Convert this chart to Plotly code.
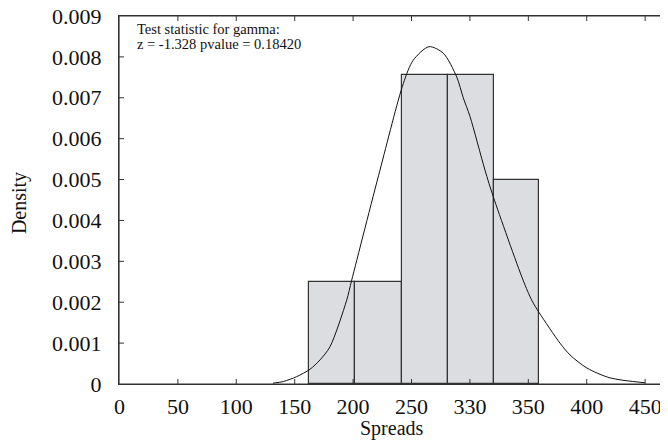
import plotly.graph_objects as go

# Histogram bins (Spreads) and densities
bin_edges = [162, 202, 242, 281, 321, 359]
densities = [0.0025, 0.0025, 0.00755, 0.00755, 0.0050]

# Fitted curve
curve_x = [131.4, 140.2, 151.7, 163.1, 171.7, 180.2, 194.5, 198.8, 223.0, 243.0, 251.5,
           265.0, 277.2, 288.7, 294.3, 300.1, 312.9, 320.0, 345.5, 352.9, 359.4,
           377.1, 385.7, 400.2, 419.9, 449.9]
curve_y = [0.00002, 0.00006, 0.00018, 0.00036, 0.00059, 0.00091, 0.00205, 0.00254, 0.00523,
           0.00735, 0.00792, 0.00825, 0.00809, 0.00751, 0.00700, 0.00654, 0.00523, 0.00458,
           0.00254, 0.00205, 0.00174, 0.00100, 0.00071, 0.00039, 0.00015, 0.00003]

x_tickvals = [0, 50, 100, 150, 200, 250, 300, 350, 400, 450]
x_ticktext = ["0", "50", "100", "150", "200", "250", "330", "350", "400", "450"]
y_tickvals = [0, 0.001, 0.002, 0.003, 0.004, 0.005, 0.006, 0.007, 0.008, 0.009]
y_ticktext = ["0", "0.001", "0.002", "0.003", "0.004", "0.005", "0.006", "0.007", "0.008", "0.009"]

x_title = "Spreads"
y_title = "Density"
ann_lines = ["Test statistic for gamma:", "z = -1.328 pvalue = 0.18420"]

centers = [(a + b) / 2 for a, b in zip(bin_edges[:-1], bin_edges[1:])]
widths = [b - a for a, b in zip(bin_edges[:-1], bin_edges[1:])]

FONT = "Liberation Serif, Times New Roman, serif"
TXT = "#111111"
LINE = "#333333"
X_RANGE = [-0.4, 467]
Y_RANGE = [0, 0.009]

fig = go.Figure()
fig.add_trace(go.Bar(
    x=centers, y=densities, width=widths,
    marker=dict(color="#dcdde0", line=dict(color="#333333", width=1.2)),
    showlegend=False, hoverinfo="skip",
))
fig.add_trace(go.Scatter(
    x=curve_x, y=curve_y, mode="lines",
    line=dict(color="#111111", width=1, shape="spline", smoothing=0.8),
    showlegend=False, hoverinfo="skip",
))

for i, t in enumerate(ann_lines):
    fig.add_annotation(
        x=0.029, xref="paper", y=0.965 - i * 0.041, yref="paper",
        text=t, showarrow=False, xanchor="left", yanchor="middle",
        font=dict(family=FONT, size=14.5, color=TXT),
    )

# axis titles
fig.add_annotation(
    x=0.5, xref="paper", y=-0.1196, yref="paper", text=x_title, showarrow=False,
    xanchor="center", yanchor="middle", font=dict(family=FONT, size=20, color=TXT),
)
fig.add_annotation(
    x=-0.181, xref="paper", y=0.492, yref="paper", text=y_title, showarrow=False,
    textangle=-90, xanchor="center", yanchor="middle",
    font=dict(family=FONT, size=20, color=TXT),
)

# plot frame
fig.add_shape(type="rect", xref="paper", yref="paper", x0=0, x1=1, y0=0, y1=1,
              line=dict(color=LINE, width=1.2), fillcolor="rgba(0,0,0,0)", layer="above")

# inside tick marks on all four sides, placed at the tick values through the axes
TL_X = 5 / 546   # tick length as paper fraction (x)
TL_Y = 5 / 368   # tick length as paper fraction (y)
for v in x_tickvals[1:]:
    fig.add_shape(type="line", xref="x", yref="paper", x0=v, x1=v, y0=0, y1=TL_Y,
                  line=dict(color=LINE, width=1), layer="above")
    fig.add_shape(type="line", xref="x", yref="paper", x0=v, x1=v, y0=1 - TL_Y, y1=1,
                  line=dict(color=LINE, width=1), layer="above")
for v in y_tickvals[1:-1]:
    fig.add_shape(type="line", xref="paper", yref="y", x0=0, x1=TL_X, y0=v, y1=v,
                  line=dict(color=LINE, width=1), layer="above")
    fig.add_shape(type="line", xref="paper", yref="y", x0=1 - TL_X, x1=1, y0=v, y1=v,
                  line=dict(color=LINE, width=1), layer="above")

axis_common = dict(
    showline=True, linecolor=LINE, linewidth=1, mirror=True,
    ticks="outside", tickcolor="rgba(0,0,0,0)", tickwidth=1,
    showgrid=False, zeroline=False, automargin=False, ticklabeloverflow="allow",
    tickfont=dict(family=FONT, size=22, color=TXT),
)

# page body has an 8px margin, so the figure is offset by 8px
fig.update_layout(
    width=668, height=443,
    margin=dict(l=111, r=11, t=8, b=67),
    paper_bgcolor="white", plot_bgcolor="white",
    bargap=0,
    xaxis=dict(range=X_RANGE, tickvals=x_tickvals, ticktext=x_ticktext, ticklen=3, **axis_common),
    yaxis=dict(range=Y_RANGE, tickvals=y_tickvals, ticktext=y_ticktext, ticklen=12, **axis_common),
)

fig.write_html("out.html")
